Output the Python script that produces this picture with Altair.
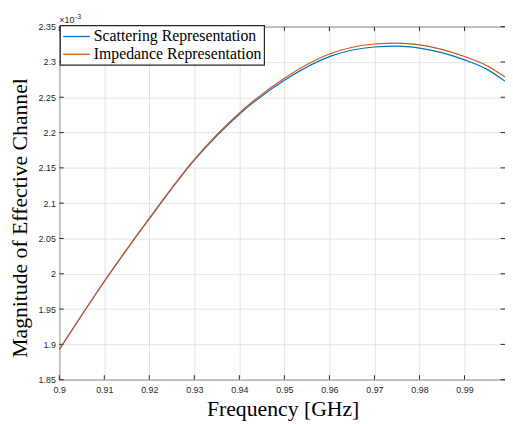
import altair as alt
import pandas as pd

# Frequency in GHz
freq = [0.900, 0.910, 0.920, 0.930, 0.940, 0.950, 0.960, 0.970, 0.975, 0.980, 0.990, 0.995, 0.999]
# Magnitude of effective channel (units of 1e-3)
scattering = [1.8925, 1.9890, 2.0780, 2.1610, 2.2260, 2.2740, 2.3075, 2.3212, 2.3223, 2.3195, 2.3030, 2.2895, 2.2728]
impedance = [1.8927, 1.9894, 2.0786, 2.1620, 2.2278, 2.2770, 2.3112, 2.3254, 2.3267, 2.3242, 2.3077, 2.2947, 2.2788]
series_names = ["Scattering Representation", "Impedance Representation"]
series_colors = ["#0072BD", "#D95319"]

x_ticks = [0.90, 0.91, 0.92, 0.93, 0.94, 0.95, 0.96, 0.97, 0.98, 0.99]
y_ticks = [1.85, 1.90, 1.95, 2.00, 2.05, 2.10, 2.15, 2.20, 2.25, 2.30, 2.35]

x_title = "Frequency [GHz]"
y_title = "Magnitude of Effective Channel"

W, H = 452, 358

df_s = pd.DataFrame({"f": freq, "m": scattering, "s": series_names[0]})
df_i = pd.DataFrame({"f": freq, "m": impedance, "s": series_names[1]})

xscale = alt.Scale(domain=[0.9, 0.999], nice=False, zero=False)
yscale = alt.Scale(domain=[1.85, 2.35], nice=False, zero=False)
cscale = alt.Scale(domain=series_names, range=series_colors)

xaxis = alt.Axis(values=x_ticks, format=".2~f", title=None, labelFlush=False, labelOverlap=False,
                 tickSize=0, domain=False, labelPadding=6, grid=True)
yaxis = alt.Axis(values=y_ticks, format=".2~f", title=None, labelFlush=False, labelOverlap=False,
                 tickSize=0, domain=False, labelPadding=4, grid=True)

def line(df):
    return alt.Chart(df).mark_line(strokeWidth=1.2, clip=True, interpolate="monotone").encode(
        x=alt.X("f:Q", scale=xscale, axis=xaxis),
        y=alt.Y("m:Q", scale=yscale, axis=yaxis),
        color=alt.Color("s:N", scale=cscale, legend=None),
    )

xt = pd.DataFrame({"v": x_ticks})
yt = pd.DataFrame({"v": y_ticks})
tick_style = dict(color="#262626", strokeWidth=1)
xb = alt.Chart(xt).mark_rule(**tick_style).encode(x=alt.X("v:Q", scale=xscale, axis=xaxis), y=alt.value(H), y2=alt.value(H - 4.5))
xtp = alt.Chart(xt).mark_rule(**tick_style).encode(x=alt.X("v:Q", scale=xscale, axis=xaxis), y=alt.value(0), y2=alt.value(4.5))
yl = alt.Chart(yt).mark_rule(**tick_style).encode(y=alt.Y("v:Q", scale=yscale, axis=yaxis), x=alt.value(0), x2=alt.value(4.5))
yr = alt.Chart(yt).mark_rule(**tick_style).encode(y=alt.Y("v:Q", scale=yscale, axis=yaxis), x=alt.value(W), x2=alt.value(W - 4.5))

exp_base = alt.Chart(pd.DataFrame({"t": ["×10"]})).mark_text(
    align="left", baseline="alphabetic", font="Liberation Sans", fontSize=9, color="#262626"
).encode(text="t:N", x=alt.value(0), y=alt.value(-4))
exp_sup = alt.Chart(pd.DataFrame({"t": ["-3"]})).mark_text(
    align="left", baseline="alphabetic", font="Liberation Sans", fontSize=7, color="#262626"
).encode(text="t:N", x=alt.value(16), y=alt.value(-8))

xtitle = alt.Chart(pd.DataFrame({"t": [x_title]})).mark_text(
    align="center", baseline="alphabetic", font="Liberation Serif", fontSize=22, color="#000000"
).encode(text="t:N", x=alt.value(W / 2 + 1), y=alt.value(H + 37))
ytitle = alt.Chart(pd.DataFrame({"t": [y_title]})).mark_text(
    align="center", baseline="alphabetic", font="Liberation Serif", fontSize=22, color="#000000", angle=270
).encode(text="t:N", x=alt.value(-33), y=alt.value(194))

# Legend box (MATLAB-style, upper left)
leg_box = alt.Chart(pd.DataFrame({"k": [0]})).mark_rect(
    fill="white", stroke="#262626", strokeWidth=1.2
).encode(x=alt.value(1), x2=alt.value(208), y=alt.value(-1), y2=alt.value(39))
leg_df = pd.DataFrame({"s": series_names, "row": [0, 1]})
leg_lines = alt.Chart(leg_df).mark_rule(strokeWidth=1.3).transform_calculate(
    yy="10 + datum.row * 18"
).encode(
    x=alt.value(4), x2=alt.value(31),
    y=alt.Y("yy:Q", scale=None),
    color=alt.Color("s:N", scale=cscale, legend=None),
)
leg_text = alt.Chart(leg_df).mark_text(
    align="left", baseline="middle", font="Liberation Serif", fontSize=16, color="#000000"
).transform_calculate(
    yy="10 + datum.row * 18"
).encode(
    x=alt.value(35), y=alt.Y("yy:Q", scale=None), text="s:N"
)

chart = alt.layer(xb, xtp, yl, yr, line(df_s), line(df_i), exp_base, exp_sup, xtitle, ytitle,
                  leg_box, leg_lines, leg_text).properties(
    width=W, height=H,
    background="white",
    autosize=alt.AutoSizeParams(type="none"),
    padding={"left": 52, "top": 16, "right": 0, "bottom": 40},
).configure_view(
    stroke="#262626", strokeWidth=1
).configure_axis(
    gridColor="#e3e3e3", gridWidth=1,
    labelFont="Liberation Sans", labelFontSize=9, labelColor="#262626",
)

chart.save("out.html", embed_options={"renderer": "svg", "actions": False})
